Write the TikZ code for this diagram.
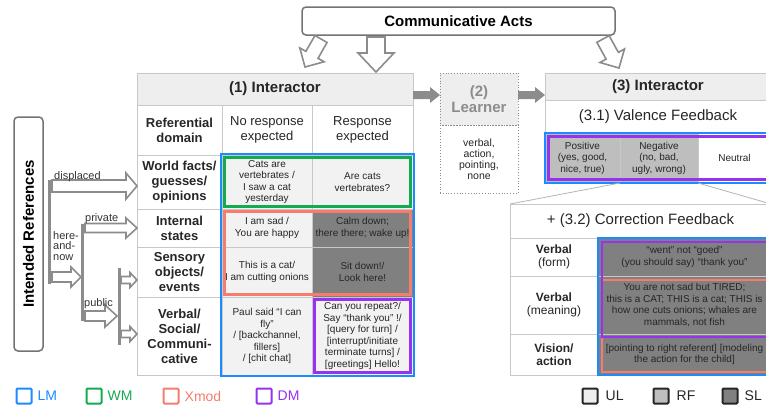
\documentclass[tikz,border=0pt]{standalone}
\usepackage{fontspec}
\setmainfont{Liberation Sans}
\usetikzlibrary{calc,positioning,fit}

\definecolor{linegray}{RGB}{200,200,200}
\definecolor{hdrgray}{RGB}{238,238,238}
\definecolor{cellgray}{RGB}{242,242,242}
\definecolor{rfgray}{RGB}{190,190,190}
\definecolor{slgray}{RGB}{128,128,128}
\definecolor{arrowgray}{RGB}{140,140,140}
\definecolor{boxgray}{RGB}{115,115,115}
\definecolor{lmblue}{RGB}{25,140,255}
\definecolor{wmgreen}{RGB}{20,170,80}
\definecolor{xmodred}{RGB}{245,125,110}
\definecolor{dmpurple}{RGB}{150,50,240}

\newcommand{\fsz}[2]{\fontsize{#1}{#2}\selectfont}

\tikzset{
  tcell/.style={draw=linegray, line width=0.8pt, anchor=north west, inner sep=1pt,
    outer sep=0pt, align=center, text=black!85, font=\fsz{10}{11.5}},
  lab/.style={tcell, font=\bfseries\fsz{13}{15}},
  hl/.style={draw=#1, line width=2.4pt, inner sep=0pt, outer sep=0pt},
  blockto/.style n args={3}{to path={
      ($(\tikztotarget)!#3!(\tikztostart)$) coordinate (bb)
      ($(\tikztostart)!#1!90:(\tikztotarget)$)
      -- ($(bb)!#1!90:(\tikztotarget)$)
      -- ($(bb)!#2!90:(\tikztotarget)$)
      -- (\tikztotarget)
      -- ($(bb)!#2!-90:(\tikztotarget)$)
      -- ($(bb)!#1!-90:(\tikztotarget)$)
      -- ($(\tikztostart)!#1!-90:(\tikztotarget)$)
      -- cycle}},
  hollowarrow/.style={draw=arrowgray, line width=1.6pt, fill=white, line join=miter},
  solidarrow/.style={fill=arrowgray, draw=none},
  refbar/.style={draw=arrowgray, line width=3pt},
  branchlab/.style={inner sep=0pt, text=black!80, font=\fsz{11}{10.5}, align=left},
  zoomline/.style={draw=linegray!90!black, line width=0.8pt},
  legsq/.style={minimum width=15pt, minimum height=15pt, inner sep=0pt,
    line width=2pt, rounded corners=1pt},
  legtxt/.style={inner sep=1pt, font=\fsz{14}{16}},
}

\begin{document}
\begin{tikzpicture}[x=1pt,y=-1pt]
\useasboundingbox (0,0) rectangle (766,408);
\clip (0,0) rectangle (766,408);

% top box
\node[draw=boxgray, line width=1.5pt, rounded corners=4pt, minimum width=313pt,
  minimum height=28pt, font=\bfseries\fsz{15}{17}] (ca) at (458.5,21) {Communicative Acts};

% (1) interactor
\node[tcell, fill=hdrgray, minimum width=276pt, minimum height=32pt,
  font=\bfseries\fsz{15}{17}] (ia1) at (137,73) {(1) Interactor};
\node[lab, minimum width=85pt, minimum height=50pt] (rd) at (137,105) {Referential\\domain};
\node[tcell, minimum width=90pt, minimum height=50pt, font=\fsz{13}{15}] (nre) at (222,105) {No response\\expected};
\node[tcell, minimum width=101pt, minimum height=50pt, font=\fsz{13}{15}] (rex) at (312,105) {Response\\expected};

\node[lab, minimum width=85pt, minimum height=54pt] (r1) at (137,155) {World facts/\\guesses/\\opinions};
\node[tcell, fill=cellgray, minimum width=90pt, minimum height=54pt] (c11) at (222,155) {Cats are\\vertebrates /\\I saw a cat\\yesterday};
\node[tcell, fill=cellgray, minimum width=101pt, minimum height=54pt] (c12) at (312,155) {Are cats\\vertebrates?};

\node[lab, minimum width=85pt, minimum height=38pt] (r2) at (137,209) {Internal\\states};
\node[tcell, fill=cellgray, minimum width=90pt, minimum height=38pt] (c21) at (222,209) {I am sad /\\You are happy};
\node[tcell, fill=slgray, minimum width=101pt, minimum height=38pt] (c22) at (312,209) {Calm down;\\there there; wake up!};

\node[lab, minimum width=85pt, minimum height=50pt] (r3) at (137,247) {Sensory\\objects/\\events};
\node[tcell, fill=cellgray, minimum width=90pt, minimum height=50pt] (c31) at (222,247) {This is a cat/\\I am cutting onions};
\node[tcell, fill=slgray, minimum width=101pt, minimum height=50pt] (c32) at (312,247) {Sit down!/\\Look here!};

\node[lab, minimum width=85pt, minimum height=78pt] (r4) at (137,297) {Verbal/\\Social/\\Communi-\\cative};
\node[tcell, fill=cellgray, minimum width=90pt, minimum height=78pt] (c41) at (222,297) {Paul said “I can\\fly”\\/ [backchannel,\\fillers]\\/ [chit chat]};
\node[tcell, fill=cellgray, minimum width=101pt, minimum height=78pt] (c42) at (312,297) {Can you repeat?/\\Say “thank you” !/\\{[query for turn] /}\\{[interrupt/initiate}\\terminate turns] /\\{[greetings] Hello!}};

\node[hl=lmblue, fit=(c11)(c42), inner sep=1pt] {};
\node[hl=wmgreen, fit=(c11)(c12), inner sep=-2.5pt] {};
\node[hl=xmodred, fit=(c21)(c32), inner sep=-2.5pt] {};
\node[hl=dmpurple, fit=(c42), inner sep=-2.5pt] {};

% (2) learner
\node[tcell, draw=arrowgray, dotted, fill=hdrgray, minimum width=78pt, minimum height=52pt,
  text=arrowgray, font=\bfseries\fsz{15}{16}] (lrn) at (440,73) {(2)\\Learner};
\node[tcell, draw=arrowgray, dotted, minimum width=78pt, minimum height=68pt,
  font=\fsz{10.5}{11}] (lrnout) at (440,125) {verbal,\\action,\\pointing,\\none};

% (3) interactor
\node[tcell, fill=hdrgray, minimum width=226pt, minimum height=27pt,
  font=\bfseries\fsz{15}{17}] (ia3) at (545,73) {(3) Interactor};
\node[tcell, minimum width=226pt, minimum height=33pt, font=\fsz{15}{17}] (val) at (545,100) {(3.1) Valence Feedback};
\node[tcell, fill=rfgray, minimum width=75pt, minimum height=50pt] (pos) at (545,133) {Positive\\(yes, good,\\nice, true)};
\node[tcell, fill=rfgray, minimum width=78pt, minimum height=50pt] (neg) at (620,133) {Negative\\(no, bad,\\ugly, wrong)};
\node[tcell, fill=white, minimum width=73pt, minimum height=50pt] (neu) at (698,133) {Neutral};
\node[hl=lmblue, fit=(pos)(neu), inner sep=0pt] {};
\node[hl=dmpurple, fit=(pos)(neu), inner sep=-3.5pt] {};

% correction feedback
\node[tcell, minimum width=261pt, minimum height=34pt, font=\fsz{15}{17}] (cor) at (510,204) {+ (3.2) Correction Feedback};
\node[tcell, minimum width=88pt, minimum height=38pt, font=\fsz{12}{13}] (vf) at (510,238) {\textbf{Verbal}\\(form)};
\node[tcell, fill=slgray, minimum width=173pt, minimum height=38pt] (cf) at (598,238) {“went” not “goed”\\(you should say) “thank you”};
\node[tcell, minimum width=88pt, minimum height=58pt, font=\fsz{12}{13}] (vm) at (510,276) {\textbf{Verbal}\\(meaning)};
\node[tcell, fill=slgray, minimum width=173pt, minimum height=58pt] (cm) at (598,276) {You are not sad but TIRED;\\this is a CAT; THIS is a cat; THIS is\\how one cuts onions; whales are\\mammals, not fish};
\node[tcell, minimum width=88pt, minimum height=41pt, font=\bfseries\fsz{12}{13}] (va) at (510,334) {Vision/\\action};
\node[tcell, fill=slgray, minimum width=173pt, minimum height=41pt] (cv) at (598,334) {[pointing to right referent] [modeling\\the action for the child]};

\node[hl=lmblue, fit=(cf)(cv), inner sep=0pt] {};
\draw[line width=2.4pt, xmodred] ([xshift=4pt,yshift=-4pt]cm.north west) rectangle ([xshift=-4pt,yshift=3pt]cv.south east);
\draw[line width=2.4pt, dmpurple] ([xshift=4pt,yshift=-4pt]cf.north west) rectangle ([xshift=-4pt,yshift=-3pt]cm.south east);

\draw[zoomline] (neg.south west) -- (cor.north west);
\draw[zoomline] (neg.south east) -- (cor.north east);

% gray arrows between the three parts
\coordinate (s1a) at ([yshift=-6pt]ia1.east);
\coordinate (s1b) at (s1a -| lrn.west);
\coordinate (s2a) at ([yshift=4pt]lrn.east);
\coordinate (s2b) at (s2a -| ia3.west);
\fill[solidarrow, blockto={4pt}{8pt}{10pt}] (s1a) to (s1b);
\fill[solidarrow, blockto={4pt}{8pt}{10pt}] (s2a) to (s2b);

% arrows from communicative acts
\coordinate (ca1) at (321,39);
\coordinate (ia1t1) at (305,67);
\coordinate (ca2) at (376,37);
\coordinate (ia1t2) at (376,72);
\coordinate (ca3) at (603,39);
\coordinate (ia3t) at (619,68);
\draw[hollowarrow, blockto={7pt}{14pt}{14pt}] (ca1) to (ia1t1);
\draw[hollowarrow, blockto={9pt}{18pt}{19pt}] (ca2) to (ia1t2);
\draw[hollowarrow, blockto={7pt}{14pt}{14pt}] (ca3) to (ia3t);

% intended references
\node[draw=boxgray, line width=1.5pt, rounded corners=4pt, rotate=90, minimum width=234pt,
  minimum height=29pt, inner sep=0pt, font=\bfseries\fsz{15}{17}] (intref) at (28.5,234) {Intended References};

\draw[refbar] (49,180) -- (49,284);
\draw[refbar] (82,224) -- (82,321);
\draw[refbar] (119,268) -- (119,345);

\coordinate (dispS) at (52,186);
\coordinate (dispT) at (r1.west |- dispS);
\coordinate (hnS) at (52,277);
\coordinate (hnT) at (81,277);
\coordinate (privS) at (85,228);
\coordinate (privT) at (r2.west |- privS);
\coordinate (pubS) at (85,316);
\coordinate (pubT) at (117,316);
\coordinate (sensS) at (121,280);
\coordinate (sensT) at (r3.west |- sensS);
\coordinate (verbS) at (121,334);
\coordinate (verbT) at (r4.west |- verbS);
\draw[hollowarrow, blockto={6pt}{13pt}{11pt}] (dispS) to (dispT);
\draw[hollowarrow, blockto={5pt}{10pt}{10pt}] (hnS) to (hnT);
\draw[hollowarrow, blockto={4.5pt}{10pt}{11pt}] (privS) to (privT);
\draw[hollowarrow, blockto={5pt}{11pt}{12pt}] (pubS) to (pubT);
\draw[hollowarrow, blockto={3.5pt}{7.5pt}{7pt}] (sensS) to (sensT);
\draw[hollowarrow, blockto={3.5pt}{7.5pt}{7pt}] (verbS) to (verbT);

\node[branchlab, anchor=base west] (ldisp) at (54,179) {displaced};
\node[branchlab, anchor=north west] (lhere) at (53,231) {here-\\and-\\now};
\node[branchlab, anchor=base west] (lpriv) at (85,221) {private};
\node[branchlab, anchor=base west] (lpub) at (84,306) {public};

% legend
\node[legsq, draw=lmblue] (kLM) at (24,396) {};
\node[legtxt, text=lmblue, right=4pt of kLM] {LM};
\node[legsq, draw=wmgreen] (kWM) at (94,396) {};
\node[legtxt, text=wmgreen, right=4pt of kWM] {WM};
\node[legsq, draw=xmodred] (kXM) at (171,396) {};
\node[legtxt, text=xmodred, right=4pt of kXM] {Xmod};
\node[legsq, draw=dmpurple] (kDM) at (264,396) {};
\node[legtxt, text=dmpurple, right=4pt of kDM] {DM};
\node[legsq, draw=black!85, fill=hdrgray] (kUL) at (590,396) {};
\node[legtxt, text=black!85, right=6pt of kUL] {UL};
\node[legsq, draw=black!85, fill=rfgray] (kRF) at (661,396) {};
\node[legtxt, text=black!85, right=6pt of kRF] {RF};
\node[legsq, draw=black!85, fill=slgray] (kSL) at (730,396) {};
\node[legtxt, text=black!85, right=5pt of kSL] {SL};
\end{tikzpicture}
\end{document}
